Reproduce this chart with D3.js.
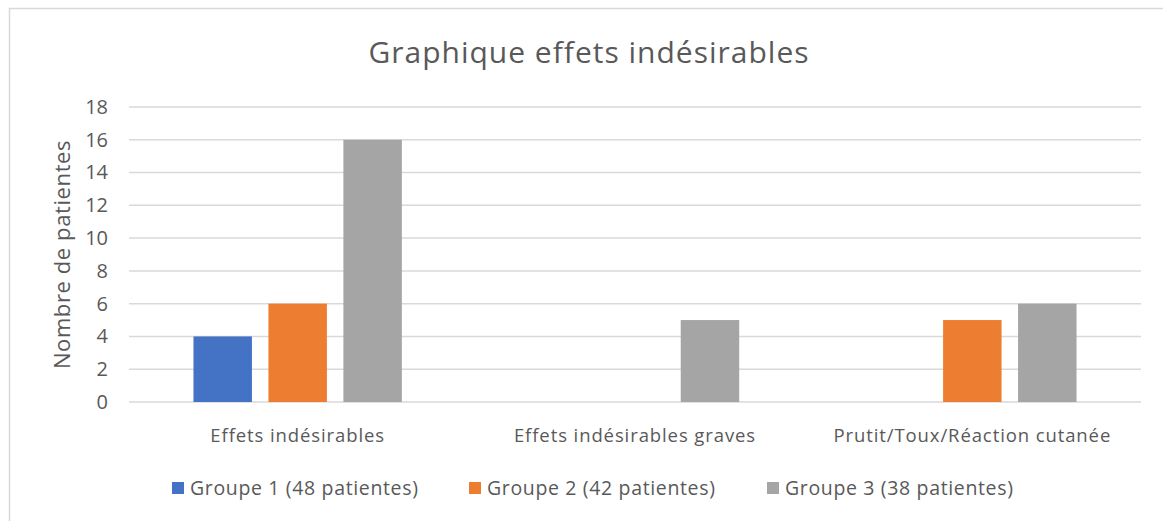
<!DOCTYPE html>
<html>
<head>
<meta charset="utf-8">
<script src="https://cdn.jsdelivr.net/npm/d3@7"></script>
<style>
	body { margin: 0; background: #fff; }
	text { font-family: "Open Sans", sans-serif; fill: #595959; }
</style>
</head>
<body>
<div id="chart"></div>
<script>

//Data
var categories = ["Effets indésirables", "Effets indésirables graves", "Prutit/Toux/Réaction cutanée"];
var series = ["Groupe 1 (48 patientes)", "Groupe 2 (42 patientes)", "Groupe 3 (38 patientes)"];
var groupe1 = [4, 0, 0];
var groupe2 = [6, 0, 5];
var groupe3 = [16, 5, 6];
var yTicks = [0, 2, 4, 6, 8, 10, 12, 14, 16, 18];
var colors = ["#4472C4", "#ED7D31", "#A5A5A5"];

var values = [groupe1, groupe2, groupe3];

///////////////////////////////////////////////////////////////////////////
//////////////////// Set up and initiate svg containers ///////////////////
///////////////////////////////////////////////////////////////////////////

var width = 1163,
	height = 521;

var margin = { top: 107, right: 22, bottom: 119, left: 129 };

var svg = d3.select("#chart").append("svg")
	.attr("width", width)
	.attr("height", height);

//Chart frame (only top and left edges are visible in the picture)
svg.append("path")
	.attr("d", "M9.5," + height + "V8.5H" + width)
	.style("fill", "none")
	.style("stroke", "#d9d9d9")
	.style("stroke-width", 1.5);

var g = svg.append("g")
	.attr("transform", "translate(" + margin.left + "," + margin.top + ")");

var w = width - margin.left - margin.right,
	h = height - margin.top - margin.bottom;

///////////////////////////////////////////////////////////////////////////
/////////////////////////////// Scales ////////////////////////////////////
///////////////////////////////////////////////////////////////////////////

var x0 = d3.scaleBand()
	.domain(categories)
	.range([0, w])
	.padding(0);

var x1 = d3.scaleBand()
	.domain(series)
	.range([0, x0.bandwidth()])
	.paddingInner(0.22)
	.paddingOuter(0.86);

var y = d3.scaleLinear()
	.domain([0, 18])
	.range([h, 0]);

//Gridlines
g.selectAll(".grid")
	.data(yTicks)
	.enter().append("line")
	.attr("class", "grid")
	.attr("x1", 0)
	.attr("x2", w)
	.attr("y1", function(d) { return y(d); })
	.attr("y2", function(d) { return y(d); })
	.style("stroke", "#d9d9d9")
	.style("stroke-width", 1.5);

//Y axis labels
var yAxis = d3.axisLeft(y)
	.tickValues(yTicks)
	.tickSize(0)
	.tickPadding(21);

g.append("g")
	.attr("class", "y-axis")
	.call(yAxis)
	.call(function(sel) { sel.select(".domain").remove(); })
	.selectAll("text")
	.style("font-size", "20px")
	.style("fill", "#595959");

//X axis labels
var xAxis = d3.axisBottom(x0)
	.tickSize(0)
	.tickPadding(27);

g.append("g")
	.attr("class", "x-axis")
	.attr("transform", "translate(0," + h + ")")
	.call(xAxis)
	.call(function(sel) { sel.select(".domain").remove(); })
	.selectAll("text")
	.style("font-size", "18.5px")
	.style("letter-spacing", "0.9px")
	.style("fill", "#595959");

///////////////////////////////////////////////////////////////////////////
//////////////////////////////// Bars /////////////////////////////////////
///////////////////////////////////////////////////////////////////////////

var catGroups = g.selectAll(".cat")
	.data(categories)
	.enter().append("g")
	.attr("class", "cat")
	.attr("transform", function(d) { return "translate(" + x0(d) + ",0)"; });

catGroups.selectAll("rect")
	.data(function(c, ci) {
		return series.map(function(s, si) { return { s: s, i: si, v: values[si][ci] }; });
	})
	.enter().filter(function(d) { return d.v > 0; })
	.append("rect")
	.attr("x", function(d) { return x1(d.s); })
	.attr("width", x1.bandwidth())
	.attr("y", function(d) { return y(d.v); })
	.attr("height", function(d) { return h - y(d.v); })
	.style("fill", function(d) { return colors[d.i]; });

///////////////////////////////////////////////////////////////////////////
////////////////////////////// Titles /////////////////////////////////////
///////////////////////////////////////////////////////////////////////////

svg.append("text")
	.attr("x", 589)
	.attr("y", 63)
	.attr("text-anchor", "middle")
	.style("font-size", "30px")
	.style("letter-spacing", "1px")
	.text("Graphique effets indésirables");

svg.append("text")
	.attr("transform", "translate(70," + (margin.top + h / 2) + ") rotate(-90)")
	.attr("text-anchor", "middle")
	.style("font-size", "22px")
	.style("letter-spacing", "0.6px")
	.text("Nombre de patientes");

///////////////////////////////////////////////////////////////////////////
////////////////////////////// Legend /////////////////////////////////////
///////////////////////////////////////////////////////////////////////////

var legendX = [172, 469, 767];

var legend = svg.selectAll(".legend")
	.data(series)
	.enter().append("g")
	.attr("class", "legend")
	.attr("transform", function(d, i) { return "translate(" + legendX[i] + ",482)"; });

legend.append("rect")
	.attr("width", 12)
	.attr("height", 12)
	.style("fill", function(d, i) { return colors[i]; });

legend.append("text")
	.attr("x", 18)
	.attr("y", 12.5)
	.style("font-size", "19.5px")
	.style("letter-spacing", "0.65px")
	.text(function(d) { return d; });

</script>
</body>
</html>
